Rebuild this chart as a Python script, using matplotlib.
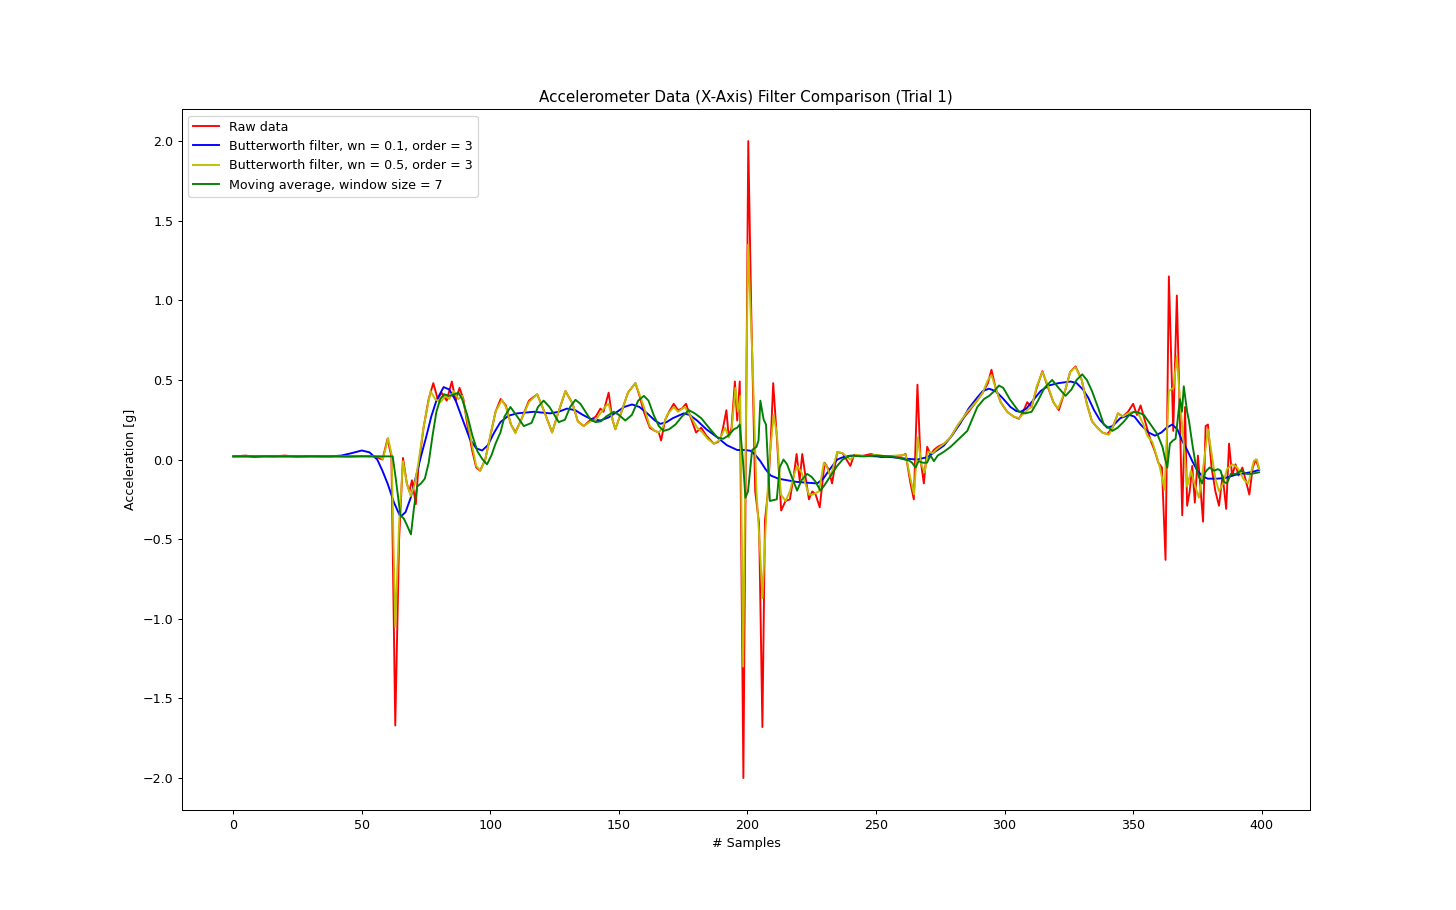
import matplotlib
matplotlib.use('Agg')
import matplotlib.pyplot as plt

# Raw accelerometer samples
raw_x = [0, 5, 8, 12, 16, 20, 25, 30, 35, 40,
         45, 50, 55, 58, 60, 61.5, 63, 64.5, 66, 67.5,
         68.5, 69.5, 71, 72, 74, 76, 77.8, 79.5, 81, 83,
         85, 86.5, 88, 89.5, 91, 93, 94.5, 96, 98, 100,
         102, 104, 106, 108, 109.7, 112, 115, 118.2, 121, 124,
         126.5, 129.2, 132, 134, 136.3, 139, 141, 142.8, 144, 146,
         147.5, 148.6, 151, 153.5, 156.4, 158, 159.7, 162, 164, 165.5,
         166.4, 168, 169.5, 171.3, 173, 174.5, 176.1, 178, 180, 182,
         184, 186.9, 188.5, 189.5, 190.5, 191.8, 192.7, 193.8, 195.1, 196,
         197, 198.4, 200.3, 201.5, 203, 204.5, 205.8, 206.8, 208, 209,
         210, 211.5, 213.1, 214.8, 216.5, 218, 219.1, 220.3, 221.3, 222.5,
         223.9, 225.2, 226.5, 228.1, 230, 231.5, 232.9, 234.9, 237, 240,
         241.5, 244, 248, 252, 256, 260, 261.5, 263.4, 264.7, 266.1,
         267.3, 268.6, 269.9, 271.2, 272.5, 274, 276.5, 279, 282, 285.5,
         289.3, 291.5, 293.5, 294.9, 296.5, 298.5, 301, 303.5, 305.6, 307.2,
         308.8, 310.5, 312.5, 314.7, 316.5, 319, 321.1, 323.5, 325.5, 327.6,
         330, 332, 334, 336.1, 338, 339.9, 342, 344.1, 346, 348,
         350, 351.5, 352.9, 355, 356.8, 358.5, 359.8, 361.2, 362.6, 363.9,
         365.6, 367, 369.1, 370.2, 371, 372, 373, 374, 375.2, 377.2,
         378.2, 379.1, 380.5, 382, 383.4, 384.8, 386.2, 387.3, 388.5, 389.8,
         391, 392.5, 393.8, 395.2, 396.5, 397.7, 399]
raw_y = [0.02, 0.025, 0.015, 0.022, 0.02, 0.025, 0.018, 0.022, 0.02, 0.02,
         0.018, 0.022, 0.02, 0.0, 0.13, 0.02, -1.67, -0.5, 0.01, -0.15,
         -0.2, -0.13, -0.28, -0.05, 0.2, 0.38, 0.48, 0.38, 0.42, 0.37,
         0.49, 0.37, 0.45, 0.38, 0.22, 0.05, -0.05, -0.07, 0.0, 0.15,
         0.3, 0.38, 0.34, 0.22, 0.17, 0.25, 0.37, 0.41, 0.3, 0.17,
         0.3, 0.43, 0.35, 0.24, 0.21, 0.25, 0.27, 0.32, 0.3, 0.42,
         0.25, 0.19, 0.3, 0.42, 0.48, 0.4, 0.3, 0.2, 0.18, 0.17,
         0.12, 0.25, 0.3, 0.35, 0.31, 0.32, 0.35, 0.26, 0.17, 0.2,
         0.15, 0.1, 0.11, 0.13, 0.2, 0.31, 0.14, 0.2, 0.49, 0.245,
         0.49, -2.0, 2.0, 0.9, -0.2, -0.4, -1.68, -0.38, -0.2, 0.1,
         0.48, 0.12, -0.32, -0.26, -0.25, -0.1, 0.035, -0.13, 0.035, -0.1,
         -0.25, -0.2, -0.22, -0.3, -0.02, -0.06, -0.15, 0.046, 0.04, -0.04,
         0.03, 0.02, 0.035, 0.015, 0.02, 0.025, 0.035, -0.15, -0.25, 0.47,
         0.0, -0.15, 0.08, 0.03, 0.06, 0.08, 0.1, 0.14, 0.22, 0.29,
         0.37, 0.42, 0.48, 0.564, 0.45, 0.36, 0.3, 0.27, 0.256, 0.3,
         0.36, 0.33, 0.45, 0.555, 0.47, 0.36, 0.31, 0.43, 0.55, 0.585,
         0.5, 0.35, 0.24, 0.2, 0.17, 0.16, 0.2, 0.29, 0.27, 0.3,
         0.35, 0.28, 0.34, 0.22, 0.12, 0.05, -0.02, -0.05, -0.63, 1.15,
         0.18, 1.03, -0.35, 0.33, -0.29, -0.2, -0.04, -0.27, 0.025, -0.39,
         0.21, 0.22, -0.05, -0.2, -0.29, -0.1, -0.31, 0.1, -0.1, -0.03,
         -0.1, -0.05, -0.13, -0.22, -0.05, 0.0, -0.06]

# Butterworth wn = 0.1
bw1_x = [0, 38, 42, 46, 50, 53, 56, 58, 60, 62.5,
         65, 67, 69, 71, 73, 75, 77, 79, 81.8, 84,
         86.5, 89, 92, 94.5, 96.8, 99, 101.5, 103.9, 107, 110.4,
         116.9, 123.3, 126.5, 129.8, 133, 136, 138.9, 142.8, 146, 149.3,
         152, 155.1, 158, 161, 164, 166.1, 168.5, 171, 175.2, 177.5,
         180.4, 184, 188.2, 192, 196, 199, 201.2, 203, 205, 207,
         209, 212, 215.4, 219, 223, 227.1, 229.5, 231.6, 234.9, 238,
         242, 250, 256, 262, 266, 270, 273, 276.4, 279.5, 282.9,
         286, 289.4, 291.5, 293.9, 296.5, 299, 302.3, 304.5, 306.2, 308.5,
         311, 314, 317.2, 321, 325.7, 328, 330.5, 332.5, 334.8, 337,
         339.9, 342, 345, 348.5, 350.5, 352.9, 356, 358.5, 361, 363,
         365.2, 367.2, 369, 371.1, 373, 375, 377, 379, 382.8, 386,
         390, 394, 397, 399]
bw1_y = [0.02, 0.02, 0.025, 0.04, 0.057, 0.045, 0.0, -0.07, -0.15, -0.27,
         -0.36, -0.33, -0.24, -0.11, 0.02, 0.14, 0.27, 0.37, 0.455, 0.44,
         0.37, 0.26, 0.13, 0.07, 0.057, 0.09, 0.17, 0.235, 0.275, 0.29,
         0.3, 0.29, 0.3, 0.32, 0.31, 0.28, 0.256, 0.245, 0.265, 0.3,
         0.33, 0.346, 0.33, 0.29, 0.245, 0.224, 0.235, 0.26, 0.29, 0.28,
         0.245, 0.19, 0.14, 0.09, 0.06, 0.06, 0.055, 0.03, -0.01, -0.06,
         -0.1, -0.12, -0.13, -0.14, -0.145, -0.15, -0.12, -0.07, 0.0, 0.02,
         0.025, 0.02, 0.015, 0.005, 0.0, 0.015, 0.05, 0.088, 0.15, 0.23,
         0.32, 0.39, 0.43, 0.445, 0.43, 0.39, 0.33, 0.305, 0.3, 0.32,
         0.37, 0.43, 0.465, 0.48, 0.49, 0.48, 0.44, 0.39, 0.31, 0.25,
         0.2, 0.21, 0.26, 0.28, 0.27, 0.22, 0.17, 0.15, 0.17, 0.2,
         0.22, 0.19, 0.12, 0.057, -0.01, -0.07, -0.105, -0.12, -0.12, -0.115,
         -0.095, -0.085, -0.075, -0.065]

# Butterworth wn = 0.5
bw5_x = [0, 57, 58.2, 60.2, 61.6, 63, 64.5, 66, 67.5, 69,
         70.5, 72, 74, 76.7, 78.5, 80.6, 82.5, 84, 85.8, 87.5,
         89, 91, 93, 94.5, 96.1, 98, 100, 102, 104.5, 106,
         108, 109.7, 112, 115, 118.2, 121, 124, 126.5, 129.2, 132,
         134, 136.3, 139, 141, 142.8, 144.5, 146, 147.5, 148.6, 151,
         153.5, 156.4, 158, 159.7, 162, 164, 165.5, 167, 168.7, 171.3,
         173, 175.6, 178, 180.4, 182.5, 184.5, 186.9, 189, 191.3, 192.7,
         193.8, 195.3, 196.3, 197.2, 198.3, 200.2, 202, 203.5, 205, 205.8,
         207, 208.5, 210.2, 211.5, 213, 214.8, 216.5, 218, 219.3, 221,
         222.5, 223.9, 225.5, 227.8, 229.7, 231, 232.3, 234.9, 237, 240,
         242, 246, 250, 254, 258, 261.5, 263.4, 264.8, 266.3, 267.6,
         268.9, 270.2, 272, 274, 276.5, 279, 282, 285.5, 289.3, 291.5,
         293.5, 294.9, 296.5, 298.5, 301, 303.5, 305.6, 307.5, 308.8, 310.5,
         312.5, 314.7, 316.5, 319, 320.8, 323.5, 325.5, 327.6, 330, 332,
         334, 336.1, 338, 340.6, 342.5, 344.1, 346, 348, 350.3, 352,
         354, 355.5, 357.5, 359, 360.4, 362.2, 363.9, 365.7, 367, 368.3,
         369.8, 371, 372.5, 374, 375.6, 377.5, 379.1, 380.5, 382, 383.4,
         385, 386.5, 388.6, 390.5, 393.2, 394.8, 397, 398.2, 399]
bw5_y = [0.02, 0.02, 0.0, 0.136, 0.03, -1.05, -0.4, -0.01, -0.15, -0.23,
         -0.16, -0.02, 0.2, 0.43, 0.38, 0.36, 0.4, 0.38, 0.43, 0.38,
         0.4, 0.25, 0.08, -0.04, -0.07, 0.0, 0.15, 0.3, 0.375, 0.33,
         0.22, 0.165, 0.25, 0.36, 0.41, 0.3, 0.17, 0.3, 0.43, 0.35,
         0.24, 0.21, 0.24, 0.25, 0.29, 0.33, 0.35, 0.25, 0.19, 0.3,
         0.42, 0.48, 0.41, 0.33, 0.21, 0.18, 0.17, 0.2, 0.28, 0.33,
         0.3, 0.33, 0.27, 0.2, 0.17, 0.13, 0.1, 0.12, 0.2, 0.14,
         0.18, 0.45, 0.3, 0.4, -1.3, 1.35, 0.6, -0.2, -0.6, -0.87,
         -0.45, 0.0, 0.28, 0.15, -0.22, -0.26, -0.2, -0.1, -0.04, -0.08,
         -0.15, -0.22, -0.22, -0.2, -0.02, -0.05, -0.11, 0.046, 0.04, 0.0,
         0.03, 0.02, 0.03, 0.02, 0.025, 0.03, -0.12, -0.22, 0.14, -0.03,
         -0.08, 0.05, 0.04, 0.07, 0.1, 0.14, 0.22, 0.3, 0.37, 0.42,
         0.5, 0.53, 0.45, 0.36, 0.3, 0.27, 0.26, 0.29, 0.31, 0.33,
         0.46, 0.55, 0.48, 0.36, 0.32, 0.43, 0.55, 0.58, 0.5, 0.35,
         0.24, 0.2, 0.17, 0.155, 0.22, 0.29, 0.27, 0.29, 0.3, 0.29,
         0.22, 0.15, 0.11, 0.03, -0.05, -0.19, 0.43, 0.45, 0.65, 0.35,
         0.08, -0.17, -0.07, -0.16, -0.24, -0.02, 0.19, 0.04, -0.12, -0.2,
         -0.15, -0.06, -0.03, -0.05, -0.13, -0.15, -0.006, 0.0, -0.06]

# Moving average, window size 7
ma_x = [0, 62, 63.2, 65, 66.3, 67.5, 69.1, 70.3, 71.5, 73,
        74.5, 76, 77.5, 79, 80.5, 82, 84, 86, 87.6, 89,
        91, 93, 95, 97, 98.7, 100.5, 102, 103.9, 105.5, 107.8,
        110, 113, 116, 118.5, 120.7, 123, 126.6, 129, 131, 133.1,
        135, 137, 139, 140.9, 143, 145, 148, 150, 152.5, 155,
        157.5, 159.7, 161.5, 163.5, 165.5, 167.4, 169.5, 172, 174.5, 177.2,
        179.5, 182, 185, 188.2, 190.5, 192.5, 194.7, 196, 197, 198.2,
        199.2, 200.2, 201.8, 203.5, 204.3, 205, 206.3, 207.2, 208.7, 211.4,
        212.5, 214, 215.4, 217, 219.3, 221, 223.2, 225, 226.5, 228.4,
        230, 232, 234.9, 237, 240, 245, 250, 256, 262.8, 264,
        265.4, 266.5, 268.2, 269.8, 271.2, 272.5, 274, 276.5, 279, 282.9,
        285.5, 289.4, 292, 294, 296, 297.8, 299.5, 302, 305.6, 308,
        310.5, 313, 315.5, 318.5, 321, 323.7, 326, 328, 330.2, 332,
        334, 336.5, 338.6, 340.5, 341.9, 344, 346.5, 348.5, 350.3, 352.9,
        354.2, 356.8, 359.4, 361.4, 362.5, 363.3, 364.3, 365.5, 366.5, 368.2,
        369, 369.7, 371, 371.7, 373, 374.5, 375.6, 376.9, 378, 379.7,
        381.5, 383, 384, 385.3, 386.5, 388, 390, 392, 394, 396,
        397.5, 399]
ma_y = [0.02, 0.02, -0.12, -0.35, -0.37, -0.41, -0.47, -0.3, -0.17, -0.15,
        -0.12, -0.02, 0.15, 0.3, 0.38, 0.41, 0.4, 0.41, 0.42, 0.38,
        0.28, 0.15, 0.05, 0.0, -0.03, 0.03, 0.1, 0.17, 0.27, 0.33,
        0.28, 0.21, 0.23, 0.33, 0.37, 0.33, 0.235, 0.25, 0.33, 0.375,
        0.35, 0.3, 0.25, 0.235, 0.24, 0.27, 0.3, 0.28, 0.245, 0.28,
        0.37, 0.4, 0.37, 0.28, 0.21, 0.18, 0.19, 0.22, 0.27, 0.31,
        0.29, 0.26, 0.2, 0.14, 0.13, 0.15, 0.19, 0.2, 0.22, 0.0,
        -0.24, -0.2, 0.06, 0.08, 0.12, 0.37, 0.25, 0.22, -0.26, -0.25,
        -0.05, 0.0, -0.03, -0.1, -0.195, -0.13, -0.09, -0.11, -0.14, -0.195,
        -0.16, -0.11, -0.04, 0.0, 0.025, 0.02, 0.025, 0.02, -0.006, -0.02,
        -0.05, -0.01, -0.02, -0.02, 0.025, -0.01, 0.025, 0.05, 0.08, 0.14,
        0.18, 0.33, 0.38, 0.4, 0.43, 0.465, 0.45, 0.38, 0.3, 0.29,
        0.3, 0.37, 0.45, 0.5, 0.45, 0.4, 0.44, 0.5, 0.535, 0.5,
        0.43, 0.32, 0.22, 0.2, 0.18, 0.2, 0.24, 0.28, 0.3, 0.29,
        0.28, 0.22, 0.16, 0.08, 0.0, -0.05, 0.1, 0.12, 0.13, 0.38,
        0.3, 0.46, 0.3, 0.245, 0.1, -0.05, -0.11, -0.15, -0.08, -0.05,
        -0.07, -0.06, -0.07, -0.14, -0.15, -0.09, -0.09, -0.07, -0.09, -0.09,
        -0.085, -0.08]

# 16x10 inches at 91 dpi -> 1456x910 px
fig, ax = plt.subplots(figsize=(16, 10), dpi=91)

ax.plot(raw_x, raw_y, color='r', label='Raw data')
ax.plot(bw1_x, bw1_y, color='b', label='Butterworth filter, wn = 0.1, order = 3')
ax.plot(bw5_x, bw5_y, color='y', label='Butterworth filter, wn = 0.5, order = 3')
ax.plot(ma_x, ma_y, color='g', label='Moving average, window size = 7')

ax.set_title('Accelerometer Data (X-Axis) Filter Comparison (Trial 1)')
ax.set_xlabel('# Samples')
ax.set_ylabel('Acceleration [g]')
ax.legend(loc='upper left')

plt.savefig('out.png', dpi=91)
